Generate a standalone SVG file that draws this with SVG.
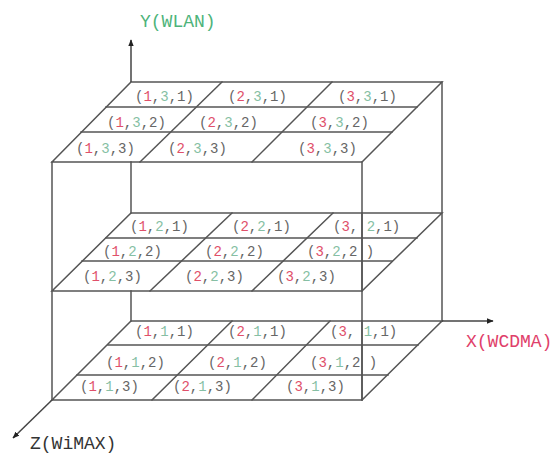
<svg xmlns="http://www.w3.org/2000/svg" width="557" height="455" viewBox="0 0 557 455">
<style>
.ln{stroke:#555;stroke-width:1.5;fill:none;stroke-linecap:square}
.ax{stroke:#444;stroke-width:1.5;fill:none}
.t{font-family:"Liberation Mono","Courier New",monospace;font-size:14px;fill:#666;white-space:pre}
.r{fill:#e0506a}
.g{fill:#86bfa4}
.lb{font-family:"Liberation Mono","Courier New",monospace;font-size:18px}
</style>
<defs>
<marker id="ah" viewBox="0 0 10 10" refX="9" refY="5" markerWidth="7" markerHeight="7" orient="auto" markerUnits="userSpaceOnUse">
<path d="M0,1 L10,5 L0,9 Z" fill="#222"/>
</marker>
</defs>
<rect width="557" height="455" fill="#fff"/>

<g id="frame">
<line class="ln" x1="52" y1="162" x2="52" y2="400"/>
<line class="ln" x1="362" y1="162" x2="362" y2="400"/>
<line class="ln" x1="442" y1="82" x2="442" y2="321"/>
<line class="ln" x1="131" y1="162" x2="131" y2="213"/>
<line class="ln" x1="131" y1="291" x2="131" y2="321"/>
</g>

<g id="layer-top">
<path class="ln" d="M131,82 L442,82 L362,162 L52,162 Z"/>
<line class="ln" x1="106" y1="107" x2="417" y2="107"/>
<line class="ln" x1="81" y1="132" x2="392" y2="132"/>
<line class="ln" x1="222" y1="82" x2="140" y2="162"/>
<line class="ln" x1="332" y1="82" x2="252" y2="162"/>
</g>

<g id="layer-mid">
<path class="ln" d="M131,213 L442,213 L362,291 L52,291 Z"/>
<line class="ln" x1="106" y1="238" x2="417" y2="238"/>
<line class="ln" x1="82" y1="261" x2="392" y2="261"/>
<line class="ln" x1="232" y1="213" x2="150" y2="291"/>
<line class="ln" x1="333" y1="213" x2="252" y2="291"/>
<line class="ln" x1="362" y1="213" x2="362" y2="291"/>
</g>

<g id="layer-bot">
<path class="ln" d="M131,321 L442,321 L362,400 L52,400 Z"/>
<line class="ln" x1="108" y1="345" x2="418" y2="345"/>
<line class="ln" x1="77" y1="375" x2="388" y2="375"/>
<line class="ln" x1="232" y1="321" x2="152" y2="400"/>
<line class="ln" x1="330" y1="321" x2="252" y2="400"/>
<line class="ln" x1="362" y1="321" x2="362" y2="400"/>
</g>

<g id="connectors">
<line class="ax" x1="131" y1="82" x2="131" y2="40" marker-end="url(#ah)"/>
<line class="ax" x1="442" y1="321" x2="493" y2="321" marker-end="url(#ah)"/>
<line class="ax" x1="52" y1="400" x2="13" y2="438" marker-end="url(#ah)"/>
</g>

<g id="labels">
<text id="y-label" class="lb" x="140" y="27" fill="#4db37a">Y(WLAN)</text>
<text id="x-label" class="lb" x="466" y="347" fill="#e0406a">X(WCDMA)</text>
<text id="z-label" class="lb" x="30" y="449" fill="#333">Z(WiMAX)</text>
</g>

<g id="cells-top">
<g id="c131"><text class="t" x="135" y="101">(<tspan class="r">1</tspan>,<tspan class="g">3</tspan>,1)</text></g>
<g id="c231"><text class="t" x="228" y="101">(<tspan class="r">2</tspan>,<tspan class="g">3</tspan>,1)</text></g>
<g id="c331"><text class="t" x="338" y="101">(<tspan class="r">3</tspan>,<tspan class="g">3</tspan>,1)</text></g>
<g id="c132"><text class="t" x="107" y="127">(<tspan class="r">1</tspan>,<tspan class="g">3</tspan>,2)</text></g>
<g id="c232"><text class="t" x="199" y="127">(<tspan class="r">2</tspan>,<tspan class="g">3</tspan>,2)</text></g>
<g id="c332"><text class="t" x="310" y="127">(<tspan class="r">3</tspan>,<tspan class="g">3</tspan>,2)</text></g>
<g id="c133"><text class="t" x="76" y="153">(<tspan class="r">1</tspan>,<tspan class="g">3</tspan>,3)</text></g>
<g id="c233"><text class="t" x="168" y="153">(<tspan class="r">2</tspan>,<tspan class="g">3</tspan>,3)</text></g>
<g id="c333"><text class="t" x="298" y="153">(<tspan class="r">3</tspan>,<tspan class="g">3</tspan>,3)</text></g>
</g>

<g id="cells-mid">
<g id="c121"><text class="t" x="130" y="231">(<tspan class="r">1</tspan>,<tspan class="g">2</tspan>,1)</text></g>
<g id="c221"><text class="t" x="232" y="231">(<tspan class="r">2</tspan>,<tspan class="g">2</tspan>,1)</text></g>
<g id="c321"><text class="t" x="333" y="231">(<tspan class="r">3</tspan>, <tspan class="g">2</tspan>,1)</text></g>
<g id="c122"><text class="t" x="103" y="256">(<tspan class="r">1</tspan>,<tspan class="g">2</tspan>,2)</text></g>
<g id="c222"><text class="t" x="205" y="256">(<tspan class="r">2</tspan>,<tspan class="g">2</tspan>,2)</text></g>
<g id="c322"><text class="t" x="307" y="256">(<tspan class="r">3</tspan>,<tspan class="g">2</tspan>,2 )</text></g>
<g id="c123"><text class="t" x="83" y="281">(<tspan class="r">1</tspan>,<tspan class="g">2</tspan>,3)</text></g>
<g id="c223"><text class="t" x="185" y="281">(<tspan class="r">2</tspan>,<tspan class="g">2</tspan>,3)</text></g>
<g id="c323"><text class="t" x="277" y="281">(<tspan class="r">3</tspan>,<tspan class="g">2</tspan>,3)</text></g>
</g>

<g id="cells-bot">
<g id="c111"><text class="t" x="135" y="336">(<tspan class="r">1</tspan>,<tspan class="g">1</tspan>,1)</text></g>
<g id="c211"><text class="t" x="228" y="336">(<tspan class="r">2</tspan>,<tspan class="g">1</tspan>,1)</text></g>
<g id="c311"><text class="t" x="330" y="336">(<tspan class="r">3</tspan>, <tspan class="g">1</tspan>,1)</text></g>
<g id="c112"><text class="t" x="106" y="367">(<tspan class="r">1</tspan>,<tspan class="g">1</tspan>,2)</text></g>
<g id="c212"><text class="t" x="208" y="367">(<tspan class="r">2</tspan>,<tspan class="g">1</tspan>,2)</text></g>
<g id="c312"><text class="t" x="310" y="367">(<tspan class="r">3</tspan>,<tspan class="g">1</tspan>,2 )</text></g>
<g id="c113"><text class="t" x="80" y="391">(<tspan class="r">1</tspan>,<tspan class="g">1</tspan>,3)</text></g>
<g id="c213"><text class="t" x="173" y="391">(<tspan class="r">2</tspan>,<tspan class="g">1</tspan>,3)</text></g>
<g id="c313"><text class="t" x="286" y="391">(<tspan class="r">3</tspan>,<tspan class="g">1</tspan>,3)</text></g>
</g>
</svg>
